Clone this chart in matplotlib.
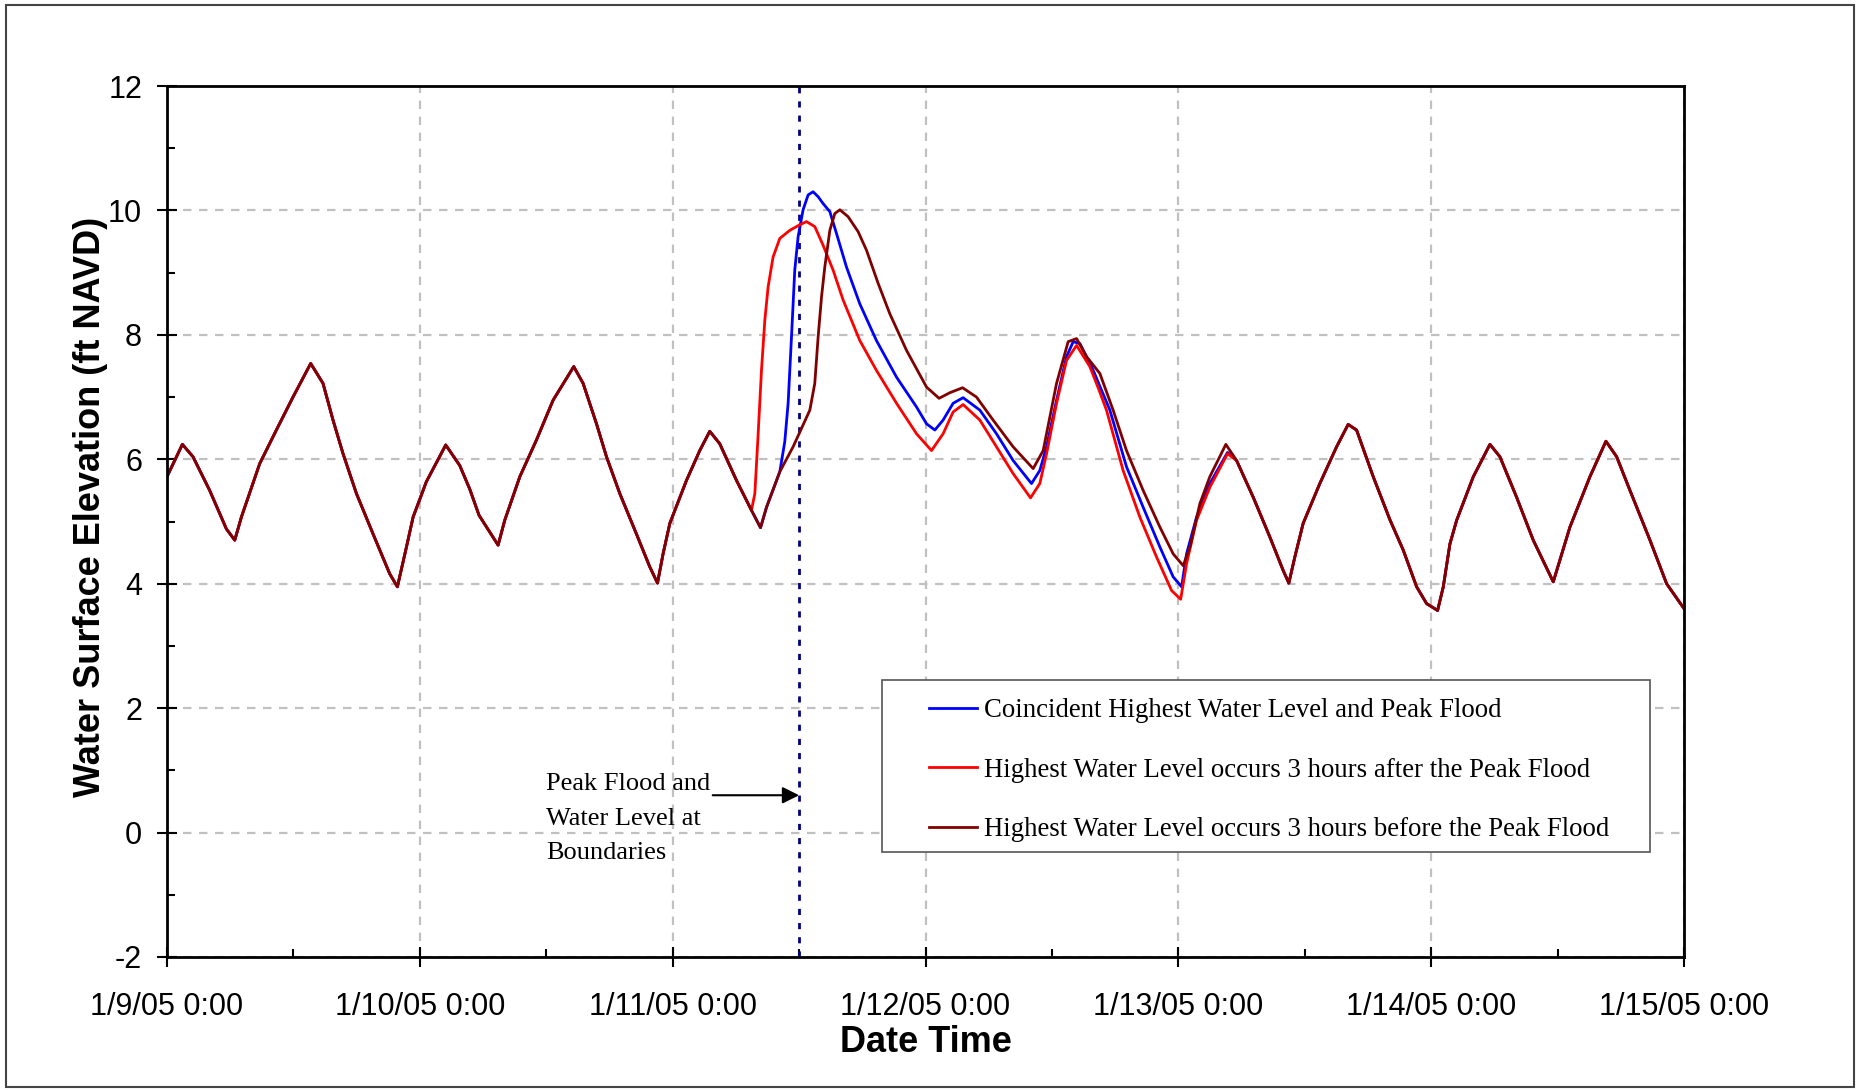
import matplotlib.pyplot as plt
from matplotlib.patches import Rectangle

plt.rcParams['font.family'] = ['Liberation Sans', 'DejaVu Sans']
plt.rcParams['axes.unicode_minus'] = False

# hours after 1/9/05 0:00, water surface elevation (ft NAVD)
# tide common to all three runs before the surge
pre_h = [0, 1.46, 2.47, 4.05, 5.64, 6.43, 7.06, 8.80, 10.38, 11.96, 13.64, 14.81,
         15.76, 16.71, 17.98, 19.56, 21.14, 21.87, 22.73, 23.36, 24.62, 26.46, 27.79,
         28.74, 29.62, 31.43, 32.06, 33.49, 35.07, 36.65, 38.61, 39.50, 40.77, 41.72,
         42.98, 44.56, 45.83, 46.56, 47.09, 47.73, 49.31, 50.57, 51.52, 52.47, 54.06, 55.48]
pre_v = [5.72, 6.24, 6.04, 5.50, 4.88, 4.70, 5.07, 5.93, 6.47, 7.00, 7.54, 7.22,
         6.63, 6.09, 5.45, 4.80, 4.16, 3.95, 4.59, 5.07, 5.64, 6.23, 5.90,
         5.52, 5.10, 4.62, 5.02, 5.72, 6.31, 6.95, 7.49, 7.22, 6.57, 6.04,
         5.45, 4.80, 4.27, 4.01, 4.48, 4.97, 5.66, 6.14, 6.45, 6.25, 5.66, 5.18]

# tide common to all three runs after the surge
post_h = [101.53, 103.11, 104.69, 105.96, 106.49, 107.06, 107.85, 109.43, 111.02, 112.12,
          112.92, 114.50, 116.08, 117.35, 118.62, 119.57, 120.61, 121.15, 121.78, 122.42,
          124.0, 125.58, 126.53, 128.11, 129.69, 131.59, 132.22, 133.17, 135.07, 136.59,
          137.61, 138.87, 140.77, 142.35, 144.0]
post_v = [5.98, 5.39, 4.75, 4.21, 4.01, 4.43, 4.97, 5.61, 6.20, 6.56,
          6.47, 5.72, 5.03, 4.54, 3.95, 3.68, 3.57, 3.95, 4.64, 5.02,
          5.72, 6.24, 6.04, 5.39, 4.70, 4.03, 4.38, 4.91, 5.72, 6.29,
          6.04, 5.50, 4.70, 4.00, 3.60]

# surge period, coincident
blue_h = [56.34, 56.91, 58.17, 58.64, 58.96, 59.28, 59.59, 59.91, 60.38, 60.86, 61.33,
          61.81, 62.28, 62.92, 63.55, 64.50, 65.76, 67.34, 69.25, 71.15, 72.10, 72.89,
          73.67, 74.62, 75.57, 77.16, 78.74, 80.32, 82.06, 82.85, 83.49, 84.44, 85.39,
          86.02, 86.66, 87.92, 89.50, 91.08, 92.66, 94.25, 95.51, 96.31, 96.78, 97.73,
          98.99, 100.67]
blue_v = [4.90, 5.23, 5.80, 6.28, 6.90, 7.97, 9.04, 9.58, 10.01, 10.25, 10.30,
          10.22, 10.11, 9.98, 9.63, 9.09, 8.50, 7.91, 7.32, 6.84, 6.57, 6.47,
          6.63, 6.90, 6.99, 6.79, 6.41, 5.98, 5.61, 5.82, 6.20, 6.95, 7.65,
          7.89, 7.86, 7.43, 6.79, 5.88, 5.23, 4.59, 4.11, 3.95, 4.48, 5.07,
          5.61, 6.11]

# surge period, highest water 3 hours after peak flood
red_h = [55.8, 56.1, 56.43, 56.75, 57.06, 57.53, 58.17, 59.12, 60.07, 60.70, 61.49,
         62.28, 63.23, 64.18, 65.76, 67.34, 69.25, 71.15, 72.57, 73.67, 74.62, 75.57,
         77.16, 78.74, 80.32, 81.97, 82.85, 83.49, 84.44, 85.39, 86.34, 87.60, 88.48,
         89.18, 90.76, 92.35, 93.93, 95.36, 96.22, 96.78, 97.73, 98.99, 100.67]
red_v = [5.45, 6.36, 7.43, 8.24, 8.77, 9.25, 9.55, 9.68, 9.77, 9.82, 9.74,
         9.44, 9.04, 8.56, 7.91, 7.43, 6.90, 6.41, 6.14, 6.41, 6.76, 6.88,
         6.63, 6.20, 5.77, 5.38, 5.61, 6.09, 6.90, 7.59, 7.83, 7.49, 7.11,
         6.79, 5.82, 5.07, 4.43, 3.89, 3.75, 4.32, 5.02, 5.55, 6.09]

# surge period, highest water 3 hours before peak flood
maroon_h = [56.34, 56.91, 58.17, 59.43, 61.02, 61.49, 61.81, 62.13, 62.44, 62.92, 63.39,
            63.87, 64.65, 65.60, 66.40, 67.50, 68.61, 70.20, 72.10, 73.29, 74.31, 75.52,
            76.84, 78.42, 80.32, 82.22, 83.17, 84.44, 85.54, 86.34, 87.29, 88.55, 89.81,
            91.08, 92.66, 94.25, 95.51, 96.46, 97.10, 98.05, 98.99, 100.51]
maroon_v = [4.90, 5.23, 5.80, 6.20, 6.79, 7.22, 7.97, 8.61, 9.09, 9.68, 9.95,
            10.01, 9.90, 9.66, 9.36, 8.83, 8.34, 7.75, 7.16, 6.98, 7.07, 7.15,
            7.00, 6.63, 6.20, 5.85, 6.14, 7.22, 7.89, 7.94, 7.65, 7.38, 6.79,
            6.14, 5.50, 4.91, 4.48, 4.29, 4.59, 5.29, 5.72, 6.24]

peak_hour = 60
day_labels = ['1/9/05 0:00', '1/10/05 0:00', '1/11/05 0:00', '1/12/05 0:00',
              '1/13/05 0:00', '1/14/05 0:00', '1/15/05 0:00']

series = [
    ('Coincident Highest Water Level and Peak Flood', blue_h, blue_v, '#0000ff'),
    ('Highest Water Level occurs 3 hours after the Peak Flood', red_h, red_v, '#ff0000'),
    ('Highest Water Level occurs 3 hours before the Peak Flood', maroon_h, maroon_v, '#800000'),
]

W, H = 1860, 1090
fig = plt.figure(figsize=(W / 100, H / 100), dpi=100)
ax = fig.add_axes([167 / W, 1 - 957 / H, (1684 - 167) / W, (957 - 86) / H])

ax.axvline(peak_hour, color='#000080', lw=2, linestyle=(0, (2.2, 2.9)), zorder=1.5)

lines = []
for label, h, v, c in series:
    line, = ax.plot(pre_h + h + post_h, pre_v + v + post_v, color=c, lw=2, label=label,
                    zorder=2, solid_joinstyle='round')
    lines.append(line)

ax.set_xlim(0, 144)
ax.set_ylim(-2, 12)
ax.set_xticks(range(0, 145, 24))
ax.set_xticklabels(day_labels)
ax.set_xticks(range(12, 145, 24), minor=True)
ax.set_yticks(range(-2, 13, 2))
ax.set_yticks(range(-1, 12, 2), minor=True)

ax.set_axisbelow(True)
ax.grid(True, which='major', color='#c0c0c0', linestyle=(0, (3.8, 3.4)), lw=1.6)
for s in ax.spines.values():
    s.set_linewidth(2)
ax.tick_params(axis='both', which='major', direction='inout', length=14, width=1.5, labelsize=22)
ax.tick_params(axis='both', which='minor', direction='in', length=6, width=1.5)
ax.tick_params(axis='x', which='major', pad=18)
ax.tick_params(axis='y', which='major', pad=11)

ax.set_xlabel('Date Time', fontsize=26, fontweight='bold')
ax.xaxis.set_label_coords(0.5, -0.0775)
ax.set_ylabel('Water Surface Elevation (ft NAVD)', fontsize=26, fontweight='bold')
ax.yaxis.set_label_coords(-0.0392, 0.5166)

# annotation for the peak time
ax.annotate('', xy=(peak_hour, 0.6), xytext=(51.8, 0.6),
            arrowprops=dict(arrowstyle='-|>', color='black', lw=1.5, mutation_scale=25,
                            shrinkA=0, shrinkB=0))
ax.text(35.95, 0.95, 'Peak Flood and\nWater Level at\nBoundaries', ha='left', va='top',
        fontsize=19, family='Liberation Serif', linespacing=1.72)

# legend with a wide box
ax.add_patch(Rectangle((882 / W, 1 - 852 / H), (1650 - 882) / W, (852 - 680) / H,
                       transform=fig.transFigure, facecolor='white', edgecolor='#555555',
                       lw=1.2, clip_on=False, zorder=4))
leg = ax.legend(handles=lines, loc='upper left', bbox_to_anchor=(929 / W, 1 - 698 / H),
                bbox_transform=fig.transFigure, frameon=False, borderpad=0, borderaxespad=0,
                prop={'family': 'Liberation Serif', 'size': 19.3}, handlelength=1.8,
                handletextpad=0.25, labelspacing=1.29)
leg.set_zorder(5)

fig.patches.append(Rectangle((6 / W, 1 - 1087 / H), (1854 - 6) / W, (1087 - 5) / H,
                             transform=fig.transFigure, fill=False, edgecolor='#444444', lw=1.5))

fig.savefig('out.png', dpi=100)
